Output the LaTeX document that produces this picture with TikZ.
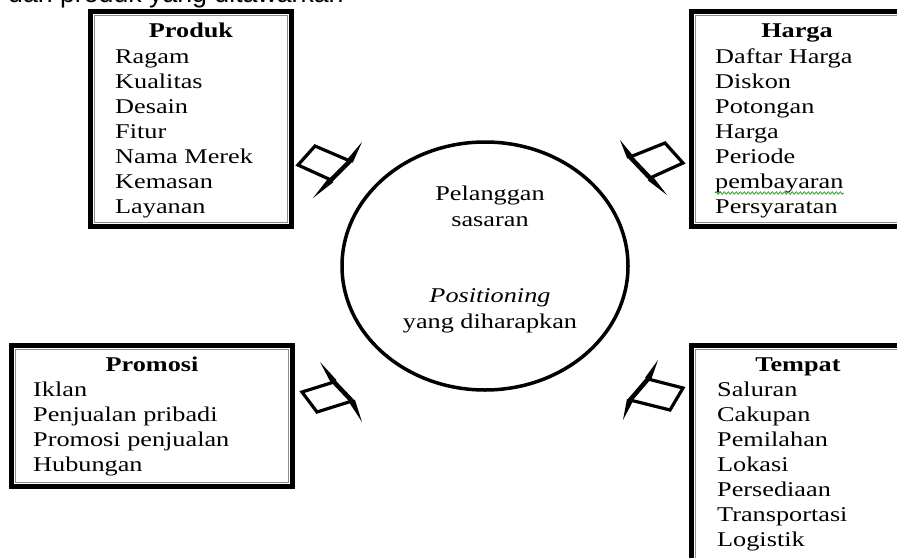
\documentclass[tikz,border=0pt]{standalone}
\usepackage{fontspec}
\setmainfont{Liberation Serif}[FakeStretch=1.25]
\newfontfamily\topfont{Liberation Sans}
\usetikzlibrary{calc,decorations.pathmorphing,shapes.geometric}
\definecolor{squiggle}{RGB}{40,160,40}
% #1 prefix, #2 spike tip 1, #3 head corner 1, #4 head corner 2, #5 spike tip 2, #6 tail 1, #7 tail 2
\newcommand{\mkarrow}[7]{%
  \coordinate (#1t1) at #2; \coordinate (#1h1) at #3;
  \coordinate (#1h2) at #4; \coordinate (#1t2) at #5;
  \coordinate (#1a) at #6; \coordinate (#1b) at #7;
  \draw[arrowbody] (#1h1) -- (#1a) -- (#1b) -- (#1h2) -- cycle;
  \draw[arrowhead] (#1h1) -- (#1h2);
  \fill (#1t1) -- ($(#1h1)!3.2pt!90:(#1t1)$) -- ($(#1h1)!3.2pt!-90:(#1t1)$) -- cycle;
  \fill (#1t2) -- ($(#1h2)!3.2pt!90:(#1t2)$) -- ($(#1h2)!3.2pt!-90:(#1t2)$) -- cycle;
}
\begin{document}
\begin{tikzpicture}[x=1pt,y=-1pt,
  txt/.style={inner sep=0pt, font=\fontsize{21}{25}\selectfont},
  item/.style={txt, anchor=base west},
  ttl/.style={txt, anchor=base, font=\fontsize{21}{25}\selectfont\bfseries},
  ctext/.style={txt, anchor=base},
  box/.style={draw, line width=5pt, rectangle, inner sep=0pt, outer sep=0pt},
  innerline/.style={draw=black!45, line width=1pt},
  arrowbody/.style={draw, line width=3.2pt, line join=miter},
  arrowhead/.style={draw, line width=4.5pt, line cap=round},
  target/.style={draw, ellipse, line width=3.5pt, minimum width=286pt, minimum height=248pt, inner sep=0pt},
  squig/.style={draw=squiggle, line width=0.8pt, decorate, decoration={snake, segment length=4pt, amplitude=1.2pt}}]
\useasboundingbox (0,0) rectangle (897,557);
\clip (0,0) rectangle (897,557);

% caption fragment at top (cut off)
\node[anchor=base west, inner sep=0pt, font=\topfont\fontsize{26.7}{30}\selectfont] (caption) at (8,2) {dan produk yang ditawarkan};

% central ellipse
\node[target] (centre) at (485,266) {};
\node[ctext] (c1) at (490,200) {Pelanggan};
\node[ctext] (c2) at (490,226) {sasaran};
\node[ctext] (c3) at (490,302) {\itshape Positioning};
\node[ctext] (c4) at (490,328) {yang diharapkan};

% boxes
\node[box, minimum width=201pt, minimum height=215pt] (produk) at (191,119) {};
\node[box, minimum width=211pt, minimum height=215pt] (harga) at (797,119) {};
\node[box, minimum width=281pt, minimum height=141pt] (promosi) at (152,416) {};
\node[box, minimum width=211pt, minimum height=222pt] (tempat) at (797,456.5) {};
\foreach \b in {produk,harga,promosi,tempat}{
  \draw[innerline] ($(\b.north west)+(4,4)$) rectangle ($(\b.south east)+(-4,-4)$);
}

% Produk
\node[ttl] (tp) at (191,37) {Produk};
\foreach \t [count=\i from 0] in {Ragam,Kualitas,Desain,Fitur,Nama Merek,Kemasan,Layanan}{
  \node[item] (p\i) at (115,63+25*\i) {\t};
}
% Harga
\node[ttl] (th) at (797,37) {Harga};
\foreach \t [count=\i from 0] in {Daftar Harga,Diskon,Potongan,Harga,Periode,pembayaran,Persyaratan}{
  \node[item] (h\i) at (715,63+25*\i) {\t};
}
\draw[squig] ($(h5.base west)+(0,5)$) -- ($(h5.base east)+(0,5)$);
% Promosi
\node[ttl] (tr) at (152,371) {Promosi};
\foreach \t [count=\i from 0] in {Iklan,Penjualan pribadi,Promosi penjualan,Hubungan}{
  \node[item] (r\i) at (33,396+25*\i) {\t};
}
% Tempat
\node[ttl] (tt) at (798,371) {Tempat};
\foreach \t [count=\i from 0] in {Saluran,Cakupan,Pemilahan,Lokasi,Persediaan,Transportasi,Logistik}{
  \node[item] (t\i) at (717,396+25*\i) {\t};
}

% block arrows
\mkarrow{ap}{(362,142)}{(350,161)}{(331,180)}{(313,198)}{(315,146)}{(298,165)}
\mkarrow{ah}{(620,140)}{(630,157)}{(650,178)}{(667,195)}{(665,143)}{(683,163)}
\mkarrow{ar}{(320,362)}{(334,382)}{(352,401)}{(362,422)}{(302,392)}{(317,412)}
\mkarrow{at}{(658,360)}{(648,379)}{(630,400)}{(623,420)}{(683,388)}{(670,410)}
\end{tikzpicture}
\end{document}
